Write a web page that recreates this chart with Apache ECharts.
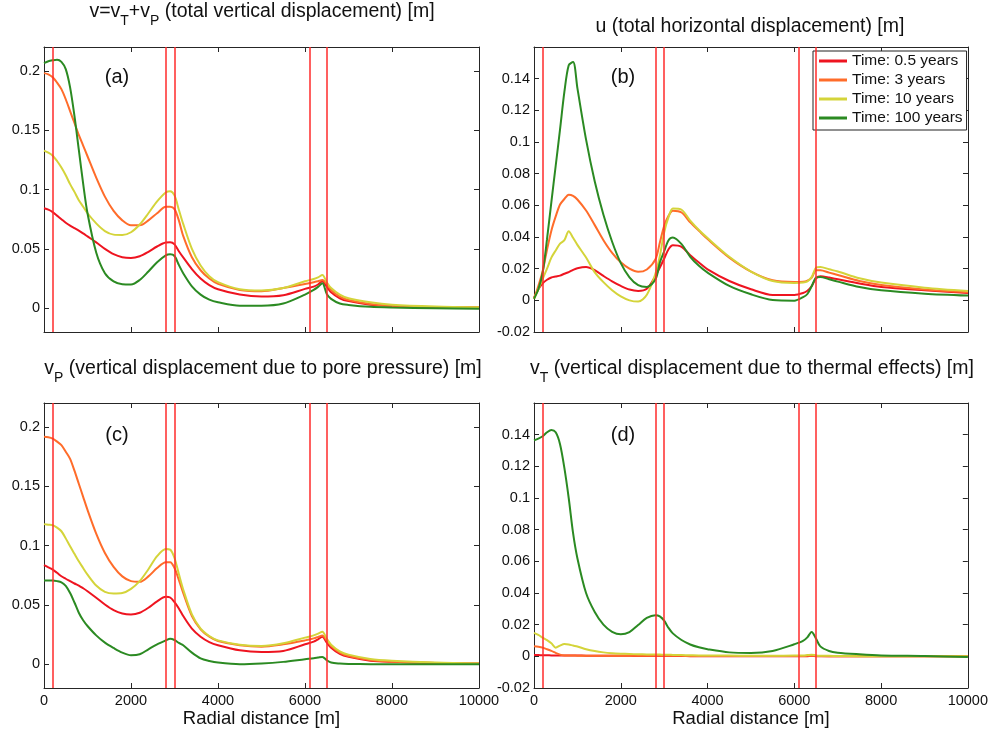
<!DOCTYPE html>
<html>
<head>
  <meta charset="utf-8" />
  <title>Displacement over time</title>
  <script src="https://cdn.jsdelivr.net/npm/echarts@6/dist/echarts.min.js"></script>
</head>
<body style="margin: 0; background: #fff">
  <div id="container" style="width: 991px; height: 729px"></div>
  <script>
    // radial distance samples [m]
    const radius = [0, 100, 200, 300, 400, 500, 600, 700, 800, 900, 1000,
      1200, 1400, 1600, 1800, 2000, 2200, 2400, 2600, 2800,
      2900, 3000, 3100, 3200, 3400, 3600, 3800, 4000,
      4500, 5000, 5500, 6000, 6200, 6300, 6400, 6500, 6600,
      6800, 7000, 7500, 8000, 9000, 10000];
    const faults = [200, 2800, 3000, 6100, 6500];
    const timeLabels = ["Time: 0.5 years", "Time: 3 years", "Time: 10 years", "Time: 100 years"];
    const yTicksV = [0, 0.05, 0.1, 0.15, 0.2];

    // (a) total vertical displacement
    const vTot05 = [0.0842, 0.083, 0.081, 0.078, 0.075, 0.072, 0.0696, 0.0675, 0.0654, 0.063, 0.0605,
      0.0555, 0.050, 0.0455, 0.043, 0.0424, 0.0438, 0.0475, 0.052, 0.0553,
      0.0555, 0.0538, 0.048, 0.0428, 0.033, 0.025, 0.0195, 0.016,
      0.0115, 0.0098, 0.011, 0.0163, 0.0182, 0.020, 0.0227, 0.0182, 0.0135,
      0.0084, 0.006, 0.003, 0.002, 0.001, 0.0008];
    const vTot3 = [0.198, 0.197, 0.1945, 0.190, 0.1845, 0.176, 0.166, 0.156, 0.146, 0.137, 0.128,
      0.110, 0.094, 0.082, 0.074, 0.0698, 0.0698, 0.074, 0.080, 0.0855,
      0.0855, 0.0835, 0.074, 0.061, 0.043, 0.032, 0.025, 0.0205,
      0.0154, 0.0143, 0.017, 0.0205, 0.0219, 0.0228, 0.0238, 0.0205, 0.0154,
      0.0098, 0.007, 0.0036, 0.002, 0.001, 0.0008];
    const vTot10 = [0.1327, 0.131, 0.1285, 0.124, 0.1185, 0.112, 0.1045, 0.098, 0.091, 0.0855, 0.080,
      0.0715, 0.065, 0.062, 0.0617, 0.064, 0.0705, 0.080, 0.090, 0.0975,
      0.0985, 0.095, 0.083, 0.071, 0.050, 0.036, 0.027, 0.022,
      0.016, 0.0149, 0.017, 0.0227, 0.0247, 0.026, 0.028, 0.0219, 0.017,
      0.0115, 0.0084, 0.005, 0.003, 0.0015, 0.0008];
    const vTot100 = [0.2064, 0.208, 0.2088, 0.2093, 0.2075, 0.2014, 0.186, 0.162, 0.1335, 0.105, 0.080,
      0.047, 0.0295, 0.0226, 0.0202, 0.020, 0.0238, 0.031, 0.0388, 0.0446,
      0.0455, 0.044, 0.0365, 0.0295, 0.0185, 0.0115, 0.0072, 0.005,
      0.0022, 0.0022, 0.004, 0.0115, 0.0154, 0.018, 0.021, 0.012, 0.0079,
      0.004, 0.0028, 0.0012, 0.0006, 0.0, -0.0005];

    // (b) total horizontal displacement
    const uTot05 = [0.0017, 0.007, 0.0108, 0.013, 0.0144, 0.015, 0.0156, 0.0168, 0.0178, 0.0192, 0.0203,
      0.021, 0.019, 0.0154, 0.012, 0.0091, 0.0068, 0.0059, 0.0073, 0.0154,
      0.0207, 0.0264, 0.0323, 0.0348, 0.0338, 0.0285, 0.0239, 0.0196,
      0.0122, 0.007, 0.0034, 0.0034, 0.0046, 0.006, 0.009, 0.0139, 0.0152,
      0.0144, 0.0133, 0.0106, 0.0084, 0.0063, 0.0046];
    const uTot3 = [0.001, 0.009, 0.0185, 0.032, 0.044, 0.053, 0.0605, 0.064, 0.0667, 0.066, 0.0637,
      0.0567, 0.0475, 0.038, 0.030, 0.024, 0.020, 0.018, 0.0195, 0.026,
      0.0365, 0.047, 0.0534, 0.0566, 0.0555, 0.0492, 0.0439, 0.0387,
      0.027, 0.0182, 0.0127, 0.0116, 0.0118, 0.0125, 0.0144, 0.019, 0.019,
      0.0175, 0.016, 0.0122, 0.0097, 0.0068, 0.0051];
    const uTot10 = [0.001, 0.007, 0.0135, 0.020, 0.027, 0.0315, 0.0358, 0.038, 0.0437, 0.0395, 0.035,
      0.027, 0.0177, 0.0115, 0.0064, 0.0025, 0.0, -0.0008, 0.0035, 0.017,
      0.028, 0.043, 0.0525, 0.058, 0.0572, 0.0503, 0.0444, 0.0393,
      0.0275, 0.0182, 0.0122, 0.011, 0.0112, 0.012, 0.0148, 0.0207, 0.0211,
      0.0196, 0.0182, 0.0139, 0.0112, 0.008, 0.0059];
    const uTot100 = [0.001, 0.007, 0.0175, 0.0386, 0.062, 0.085, 0.108, 0.1316, 0.1485, 0.1505, 0.134,
      0.1015, 0.075, 0.054, 0.037, 0.0235, 0.0145, 0.0096, 0.0085, 0.0133,
      0.0239, 0.031, 0.038, 0.0397, 0.0355, 0.0275, 0.0218, 0.0175,
      0.0091, 0.0038, 0.0002, -0.0002, 0.002, 0.004, 0.009, 0.0144, 0.0148,
      0.0133, 0.0118, 0.0084, 0.0063, 0.0042, 0.003];

    // (c) vertical displacement due to pore pressure
    const vP05 = [0.0834, 0.0815, 0.0797, 0.077, 0.0741, 0.072, 0.070, 0.068, 0.0663, 0.064, 0.0615,
      0.056, 0.0503, 0.0456, 0.0428, 0.042, 0.0434, 0.0476, 0.053, 0.0568,
      0.0562, 0.0523, 0.047, 0.0406, 0.030, 0.0232, 0.0187, 0.016,
      0.0117, 0.0103, 0.0112, 0.0168, 0.019, 0.021, 0.0232, 0.0182, 0.014,
      0.0087, 0.0062, 0.003, 0.002, 0.001, 0.0006];
    const vP3 = [0.1916, 0.1912, 0.19, 0.1875, 0.1846, 0.179, 0.173, 0.163, 0.152, 0.141, 0.130,
      0.110, 0.0937, 0.082, 0.074, 0.070, 0.0694, 0.074, 0.081, 0.0859,
      0.0859, 0.081, 0.071, 0.060, 0.0406, 0.0294, 0.0232, 0.0196,
      0.016, 0.0148, 0.0168, 0.0201, 0.0218, 0.023, 0.0243, 0.0201, 0.0154,
      0.0098, 0.007, 0.0036, 0.0022, 0.0011, 0.0006];
    const vP10 = [0.118, 0.1175, 0.117, 0.115, 0.112, 0.106, 0.0993, 0.093, 0.0867, 0.081, 0.0755,
      0.0663, 0.061, 0.0596, 0.060, 0.0635, 0.070, 0.080, 0.091, 0.097,
      0.0965, 0.0895, 0.076, 0.063, 0.042, 0.030, 0.0238, 0.0201,
      0.0165, 0.0154, 0.0176, 0.0224, 0.0243, 0.0258, 0.0274, 0.0215, 0.0165,
      0.0109, 0.0081, 0.0045, 0.003, 0.0014, 0.0006];
    const vP100 = [0.0705, 0.0705, 0.0705, 0.070, 0.069, 0.066, 0.060, 0.052, 0.0434, 0.037, 0.0322,
      0.0243, 0.0182, 0.0137, 0.0098, 0.0076, 0.0084, 0.0126, 0.0168, 0.0201,
      0.0215, 0.0204, 0.018, 0.016, 0.0098, 0.005, 0.0028, 0.0014,
      0.0, 0.0006, 0.002, 0.0042, 0.005, 0.0056, 0.0062, 0.0034, 0.0014,
      0.0006, 0.0003, 0.0001, 0, 0, 0];

    // (d) vertical displacement due to thermal effects
    const vT05 = [0.0008, 0.0008, 0.0007, 0.0007, 0.0006, 0.0006, 0.0006, 0.0005, 0.0005, 0.0005, 0.0005,
      0.0004, 0.0004, 0.0004, 0.0003, 0.0003, 0.0003, 0.0002, 0.0002, 0.0002,
      0.0002, 0.0002, 0.0002, 0.0002, 0.0002, 0.0001, 0.0001, 0.0001,
      0.0001, 0.0001, 0.0001, 0.0001, 0.0001, 0.0001, 0.0002, 0.0001, 0.0001,
      0.0001, 0, 0, 0, 0, 0];
    const vT3 = [0.0063, 0.006, 0.0055, 0.0045, 0.0034, 0.0022, 0.0011, 0.0006, 0.0005, 0.0005, 0.0004,
      0.0004, 0.0004, 0.0004, 0.0004, 0.0004, 0.0003, 0.0003, 0.0003, 0.0003,
      0.0003, 0.0003, 0.0003, 0.0003, 0.0003, 0.0002, 0.0002, 0.0002,
      0.0002, 0.0002, 0.0002, 0.0002, 0.0002, 0.0003, 0.0004, 0.0003, 0.0002,
      0.0001, 0.0001, 0.0001, 0, 0, 0];
    const vT10 = [0.0148, 0.0135, 0.0118, 0.0102, 0.0082, 0.0055, 0.0068, 0.0078, 0.0075, 0.0068, 0.0062,
      0.0045, 0.0033, 0.0025, 0.002, 0.0017, 0.0015, 0.0013, 0.0012, 0.0011,
      0.0011, 0.001, 0.001, 0.0009, 0.0008, 0.0007, 0.0006, 0.0006,
      0.0005, 0.0004, 0.0004, 0.0005, 0.0006, 0.0008, 0.001, 0.0006, 0.0004,
      0.0003, 0.0002, 0.0001, 0.0001, 0, 0];
    const vT100 = [0.1364, 0.1375, 0.139, 0.1415, 0.143, 0.1415, 0.134, 0.119, 0.100, 0.078, 0.062,
      0.040, 0.028, 0.020, 0.0155, 0.0139, 0.0153, 0.0198, 0.0243, 0.026,
      0.0252, 0.0225, 0.018, 0.0145, 0.0103, 0.0075, 0.0057, 0.0045,
      0.0025, 0.0021, 0.0034, 0.0076, 0.0097, 0.012, 0.0154, 0.0112, 0.0063,
      0.0034, 0.0023, 0.0013, 0.0006, 0.0002, -0.0004];

    const colors = ["#ee1420", "#ff6c2a", "#d4d43a", "#2b8a22"];
    const axisColor = "#262626";
    const font = "'Liberation Sans', Arial, Helvetica, sans-serif";

    const panels = [
      { curves: [vTot05, vTot3, vTot10, vTot100], wide: true, grid: { left: 44, top: 47, width: 435, height: 285 } },
      { curves: [uTot05, uTot3, uTot10, uTot100], wide: false, grid: { left: 534, top: 47, width: 434, height: 285 } },
      { curves: [vP05, vP3, vP10, vP100], wide: true, grid: { left: 44, top: 403, width: 435, height: 285 } },
      { curves: [vT05, vT3, vT10, vT100], wide: false, grid: { left: 534, top: 403, width: 434, height: 285 } },
    ];

    const grids = [], xAxes = [], yAxes = [], series = [];
    panels.forEach((p, i) => {
      grids.push(p.grid);
      [false, true].forEach(top => {
        const labelled = !top && i >= 2;
        xAxes.push({
          type: "value", gridIndex: i, position: top ? "top" : "bottom",
          min: 0, max: 10000, interval: 2000,
          axisLine: { show: true, onZero: false, lineStyle: { color: axisColor, width: 1 } },
          axisTick: { inside: true, length: 5, lineStyle: { color: axisColor } },
          axisLabel: {
            show: labelled, margin: 5, fontSize: 14.5, color: "#111", fontFamily: font,
            formatter: v => String(v),
          },
          splitLine: { show: false },
          name: labelled ? "Radial distance [m]" : "",
          nameLocation: "middle", nameGap: 21,
          nameTextStyle: { fontSize: 18.5, color: "#111", fontFamily: font },
        });
      });
      [false, true].forEach(right => {
        const y = {
          type: "value", gridIndex: i, position: right ? "right" : "left",
          min: -0.02, max: p.wide ? 0.22 : 0.16,
          axisLine: { show: true, onZero: false, lineStyle: { color: axisColor, width: 1 } },
          axisTick: { inside: true, length: 5, lineStyle: { color: axisColor } },
          axisLabel: { show: !right, margin: 4, fontSize: 14.5, color: "#111", fontFamily: font },
          splitLine: { show: false },
        };
        if (p.wide) {
          y.axisTick.customValues = yTicksV;
          y.axisLabel.customValues = yTicksV;
        } else {
          y.interval = 0.02;
          y.axisLabel.showMaxLabel = false;
        }
        yAxes.push(y);
      });
      p.curves.forEach((vals, j) => {
        const s = {
          type: "line", name: timeLabels[j],
          xAxisIndex: 2 * i, yAxisIndex: 2 * i,
          data: radius.map((r, k) => [r, vals[k]]),
          showSymbol: false, smooth: 0.3,
          lineStyle: { color: colors[j], width: 2 },
          itemStyle: { color: colors[j] },
        };
        if (j === 3) {
          s.markLine = {
            silent: true, symbol: "none", label: { show: false },
            lineStyle: { color: "#ff2b2b", width: 1.5, type: "solid" },
            data: faults.map(f => ({ xAxis: f })),
          };
        }
        series.push(s);
      });
    });

    const titleStyle = (txt, x, y) => ({
      type: "text", x: x, y: y,
      style: {
        text: txt, fill: "#111", fontFamily: font, fontSize: 19.5, lineHeight: 24,
        align: "center", verticalAlign: "top",
        rich: { s: { fontSize: 14, lineHeight: 14, padding: [19, 0, 0, 0], fontFamily: font, fill: "#111" } },
      },
    });
    const tag = (txt, x, y) => ({
      type: "text", x: x, y: y,
      style: { text: txt, fill: "#111", fontFamily: font, fontSize: 20, align: "center", verticalAlign: "middle" },
    });

    var myChart = echarts.init(document.getElementById("container"), null, { renderer: "canvas" });
    var option = {
      animation: false,
      backgroundColor: "#fff",
      textStyle: { fontFamily: font },
      grid: grids,
      xAxis: xAxes,
      yAxis: yAxes,
      legend: {
        data: timeLabels, orient: "vertical", left: 813, top: 51,
        padding: [2, 4, 4, 6], itemGap: 3, itemWidth: 28, itemHeight: 3, icon: "rect",
        backgroundColor: "#fff", borderColor: "#222", borderWidth: 1, borderRadius: 0,
        selectedMode: false,
        textStyle: { fontSize: 15.5, lineHeight: 16, color: "#111", fontFamily: font },
      },
      graphic: [
        titleStyle("v=v{s|T}+v{s|P} (total vertical displacement) [m]", 262, 0),
        titleStyle("u (total horizontal displacement) [m]", 750, 14.5),
        titleStyle("v{s|P} (vertical displacement due to pore pressure) [m]", 263, 356.5),
        titleStyle("v{s|T} (vertical displacement due to thermal effects) [m]", 752, 356.5),
        tag("(a)", 117, 77), tag("(b)", 623, 77),
        tag("(c)", 117, 435), tag("(d)", 623, 435),
      ],
      series: series,
    };
    myChart.setOption(option);
  </script>
</body>
</html>
